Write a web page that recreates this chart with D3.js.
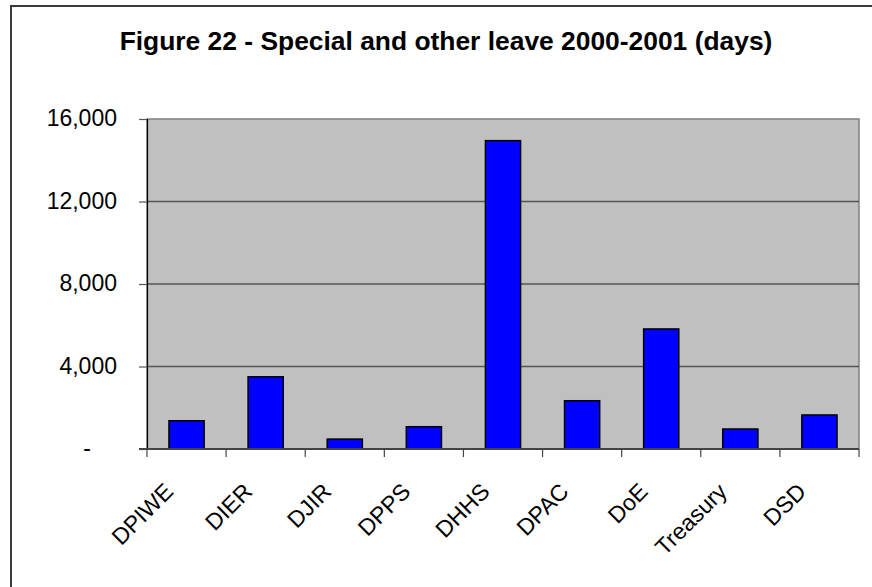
<!DOCTYPE html>
<html>
<head>
<meta charset="utf-8">
<script src="https://cdn.jsdelivr.net/npm/d3@7/dist/d3.min.js"></script>
<style>
  html, body { margin: 0; padding: 0; background: #fff; }
  svg { display: block; }
  text { font-family: "Liberation Sans", Arial, sans-serif; fill: #000; }
</style>
</head>
<body>
<script>
// Special and other leave by department, 2000-2001 (days)
const departments = ["DPIWE", "DIER", "DJIR", "DPPS", "DHHS", "DPAC", "DoE", "Treasury", "DSD"];
const leaveDays = [1370, 3500, 480, 1080, 14950, 2340, 5820, 970, 1650];
const yTicks = [0, 4000, 8000, 12000, 16000];
const titleText = "Figure 22 - Special and other leave 2000-2001 (days)";

const W = 872, H = 587;
const plot = { left: 147, right: 859, top: 119, bottom: 449 };

const svg = d3.select("body").append("svg")
  .attr("width", W).attr("height", H);

// chart frame
svg.append("rect")
  .attr("x", 11).attr("y", 6)
  .attr("width", W + 20).attr("height", H + 20)
  .attr("fill", "#fff")
  .attr("stroke", "#3a3a3a")
  .attr("stroke-width", 2);

svg.append("text")
  .attr("x", 446).attr("y", 49.5)
  .attr("text-anchor", "middle")
  .attr("font-size", 26.4)
  .attr("font-weight", "bold")
  .text(titleText);

const x = d3.scaleBand()
  .domain(departments)
  .range([plot.left, plot.right])
  .paddingInner(0).paddingOuter(0);

const y = d3.scaleLinear()
  .domain([0, 16000])
  .range([plot.bottom, plot.top]);

// plot area
svg.append("rect")
  .attr("x", plot.left).attr("y", plot.top)
  .attr("width", plot.right - plot.left)
  .attr("height", plot.bottom - plot.top)
  .attr("fill", "#c0c0c0")
  .attr("stroke", "#808080")
  .attr("stroke-width", 1.5);

// gridlines
svg.append("g")
  .selectAll("line")
  .data(yTicks.filter(d => d > 0 && d < 16000))
  .join("line")
  .attr("x1", plot.left).attr("x2", plot.right)
  .attr("y1", d => y(d)).attr("y2", d => y(d))
  .attr("stroke", "#555")
  .attr("stroke-width", 1.5);

// bars
const barW = x.bandwidth() / 2.25;
svg.append("g")
  .selectAll("rect")
  .data(departments.map((d, i) => ({ dept: d, value: leaveDays[i] })))
  .join("rect")
  .attr("x", d => x(d.dept) + (x.bandwidth() - barW) / 2)
  .attr("y", d => y(d.value))
  .attr("width", barW)
  .attr("height", d => y(0) - y(d.value))
  .attr("fill", "#0000ff")
  .attr("stroke", "#000")
  .attr("stroke-width", 1.5);

// y axis
const yAxis = d3.axisLeft(y)
  .tickValues(yTicks)
  .tickSize(8)
  .tickPadding(22)
  .tickFormat(d => d === 0 ? "-" : d3.format(",")(d));

const gy = svg.append("g")
  .attr("transform", `translate(${plot.left},0)`)
  .call(yAxis);
gy.select(".domain").attr("stroke", "#000").attr("stroke-width", 1.2);
gy.selectAll(".tick line").attr("stroke", "#555").attr("stroke-width", 1.2);
gy.selectAll(".tick text")
  .attr("font-size", 23)
  .attr("font-family", "Liberation Sans, Arial, sans-serif")
  .attr("fill", "#000")
  .attr("dy", "0.3em")
  .filter(d => d === 0)
  .attr("dx", -26);

// x axis: ticks on category boundaries
const gx = svg.append("g");
gx.append("line")
  .attr("x1", plot.left - 8).attr("x2", plot.right)
  .attr("y1", plot.bottom).attr("y2", plot.bottom)
  .attr("stroke", "#444").attr("stroke-width", 2);

const boundaries = departments.map(d => x(d)).concat([x.range()[1]]);
gx.selectAll("line.tick")
  .data(boundaries)
  .join("line")
  .attr("class", "tick")
  .attr("x1", d => d).attr("x2", d => d)
  .attr("y1", plot.bottom).attr("y2", plot.bottom + 8)
  .attr("stroke", "#444").attr("stroke-width", 1.2);

gx.selectAll("text")
  .data(departments)
  .join("text")
  .attr("transform", d => `translate(${x(d) + x.bandwidth() / 2 - 12},${plot.bottom + 44}) rotate(-45)`)
  .attr("text-anchor", "end")
  .attr("font-size", 23)
  .text(d => d);
</script>
</body>
</html>
